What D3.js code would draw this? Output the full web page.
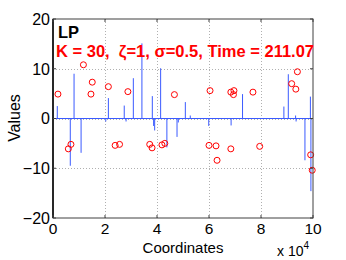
<!DOCTYPE html>
<html>
<head>
<meta charset="utf-8">
<script src="https://cdn.jsdelivr.net/npm/d3@7"></script>
<style>
  body { margin: 0; background: #fff; }
  text { font-family: "Liberation Sans", Arial, sans-serif; }
</style>
</head>
<body>
<svg class="chart" width="346" height="260"></svg>
<script>
// stem plot (LP reconstruction), coordinate / value
const stemCoords = [1650, 6650, 8100, 10800, 20300, 21300, 27400, 28100, 30900, 34200,
  38200, 38700, 39100, 41400, 43800, 47700, 48200, 50900, 52800, 59900,
  68500, 72900, 88800, 90500, 93300, 93500, 96900, 99000, 99200];
const stemValues = [2.5, -9.5, 9.0, -6.9, -0.6, 4.1, 2.6, -0.6, 8.1, 15.1,
  4.5, -1.5, -2.4, 10.1, -5.8, -3.7, -0.8, 3.3, 0.6, -1.5,
  -1.4, 4.9, 2.4, 8.9, 0.6, -0.6, -8.4, 4.4, -14.6];

// original signal (red circles)
const trueCoords = [1900, 5900, 6900, 11700, 14600, 15100, 21300, 23900, 25600, 28800,
  37200, 38100, 41900, 43000, 46700, 60400, 60000, 62700, 63100, 68400,
  69600, 69400, 68400, 76900, 79500, 91800, 93400, 94000, 99100, 99700];
const trueValues = [4.9, -6.1, -5.2, 10.8, 4.9, 7.3, 6.4, -5.4, -5.2, 5.4,
  -5.2, -5.9, -5.3, -5.0, 4.8, 5.6, -5.4, -5.5, -8.4, 5.3,
  5.6, 4.8, -6.1, 5.3, -5.6, 7.0, 5.9, 9.4, -7.3, -10.4];

const xTicks = [0, 20000, 40000, 60000, 80000, 100000];
const yTicks = [-20, -10, 0, 10, 20];

const startApp = () => {
  const svg = d3.select('.chart');
  const left = 53, right = 313, top = 19, bottom = 218;

  const x = d3.scaleLinear().domain([0, 100000]).range([left, right]);
  const y = d3.scaleLinear().domain([-20, 20]).range([bottom, top]);

  // grid
  const grid = svg.append('g')
    .attr('stroke', '#b0b0b0')
    .attr('stroke-dasharray', '1,2')
    .attr('stroke-width', 1);
  grid.selectAll('.gx')
    .data(xTicks.slice(1, -1))
    .enter()
    .append('line')
    .attr('x1', d => Math.round(x(d)) + 0.5)
    .attr('x2', d => Math.round(x(d)) + 0.5)
    .attr('y1', top)
    .attr('y2', bottom);
  grid.selectAll('.gy')
    .data(yTicks.slice(1, -1))
    .enter()
    .append('line')
    .attr('x1', left)
    .attr('x2', right)
    .attr('y1', d => Math.round(y(d)) + 0.5)
    .attr('y2', d => Math.round(y(d)) + 0.5);

  // stems
  const stems = stemCoords.map((c, i) => ({ c, v: stemValues[i] }));
  svg.append('g')
    .attr('stroke', '#3a5aff')
    .attr('stroke-width', 1)
    .selectAll('line')
    .data(stems)
    .enter()
    .append('line')
    .attr('x1', d => x(d.c))
    .attr('x2', d => x(d.c))
    .attr('y1', y(0))
    .attr('y2', d => y(d.v));

  // baseline
  svg.append('line')
    .attr('x1', left)
    .attr('x2', right)
    .attr('y1', y(0))
    .attr('y2', y(0))
    .attr('stroke', '#3a5aff')
    .attr('stroke-width', 1);

  // circles
  const pts = trueCoords.map((c, i) => ({ c, v: trueValues[i] }));
  svg.append('g')
    .selectAll('circle')
    .data(pts)
    .enter()
    .append('circle')
    .attr('cx', d => x(d.c))
    .attr('cy', d => y(d.v))
    .attr('r', 3)
    .attr('fill', 'none')
    .attr('stroke', '#ff0000')
    .attr('stroke-width', 1);

  // box
  svg.append('rect')
    .attr('x', left)
    .attr('y', top)
    .attr('width', right - left)
    .attr('height', bottom - top)
    .attr('fill', 'none')
    .attr('stroke', '#404040')
    .attr('stroke-width', 1);
  svg.append('line')
    .attr('x1', left).attr('x2', left)
    .attr('y1', top).attr('y2', bottom)
    .attr('stroke', '#000').attr('stroke-width', 1.5);

  // inward ticks
  const ticks = svg.append('g').attr('stroke', '#404040').attr('stroke-width', 1);
  xTicks.forEach(t => {
    ticks.append('line').attr('x1', x(t)).attr('x2', x(t)).attr('y1', bottom).attr('y2', bottom - 3);
    ticks.append('line').attr('x1', x(t)).attr('x2', x(t)).attr('y1', top).attr('y2', top + 3);
  });
  yTicks.forEach(t => {
    ticks.append('line').attr('x1', left).attr('x2', left + 3).attr('y1', y(t)).attr('y2', y(t));
    ticks.append('line').attr('x1', right).attr('x2', right - 3).attr('y1', y(t)).attr('y2', y(t));
  });

  // tick labels
  const fmt = d3.format('d');
  svg.append('g')
    .selectAll('text')
    .data(yTicks)
    .enter()
    .append('text')
    .attr('x', left - 3)
    .attr('y', d => y(d))
    .attr('dy', '0.36em')
    .attr('text-anchor', 'end')
    .attr('font-size', 16)
    .text(d => fmt(d));
  svg.append('g')
    .selectAll('text')
    .data(xTicks)
    .enter()
    .append('text')
    .attr('x', d => x(d))
    .attr('y', 234)
    .attr('text-anchor', 'middle')
    .attr('font-size', 15.5)
    .text(d => fmt(d / 10000));

  // axis labels
  svg.append('text')
    .attr('x', 183)
    .attr('y', 253)
    .attr('text-anchor', 'middle')
    .attr('font-size', 15)
    .text('Coordinates');
  svg.append('text')
    .attr('transform', 'translate(20,118) rotate(-90)')
    .attr('text-anchor', 'middle')
    .attr('font-size', 16)
    .text('Values');
  const mult = svg.append('text')
    .attr('x', 277)
    .attr('y', 256)
    .attr('font-size', 14);
  mult.append('tspan').text('x 10');
  mult.append('tspan').attr('dy', -7).attr('font-size', 10).text('4');

  // annotations
  svg.append('text')
    .attr('x', 58)
    .attr('y', 38)
    .attr('font-size', 16.5)
    .attr('font-weight', 'bold')
    .text('LP');
  svg.append('text')
    .attr('x', 56)
    .attr('y', 57)
    .attr('font-size', 16.5)
    .attr('font-weight', 'bold')
    .attr('fill', '#ff0000')
    .attr('xml:space', 'preserve')
    .style('white-space', 'pre')
    .text('K = 30,  \u03b6=1, \u03c3=0.5, Time = 211.07');
};

window.onload = startApp;
</script>
</body>
</html>
